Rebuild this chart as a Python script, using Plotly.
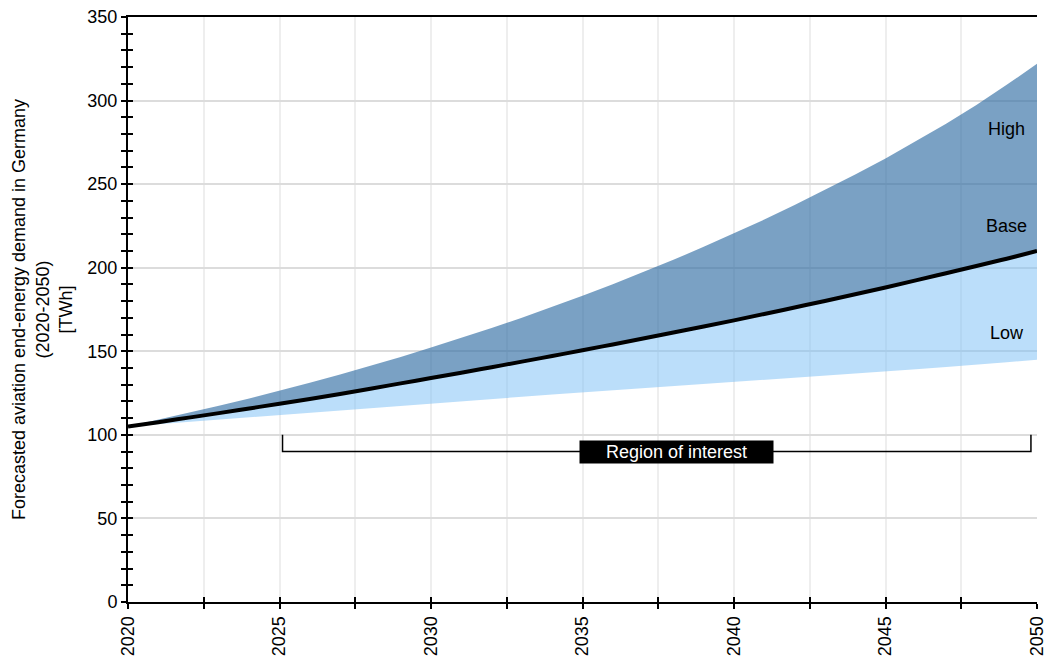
import plotly.graph_objects as go

years = list(range(2020, 2051))
high = [105.0, 109.0, 113.1, 117.4, 121.8, 126.4, 131.2, 136.1, 141.3, 146.6,
        152.2, 157.9, 163.9, 170.1, 176.5, 183.2, 190.1, 197.3, 204.7, 212.5,
        220.5, 228.8, 237.5, 246.4, 255.7, 265.4, 275.6, 286.2, 297.4, 309.4, 322.0]
base = [105.0, 107.6, 110.3, 113.0, 115.8, 118.6, 121.5, 124.5, 127.6, 130.8,
        134.0, 137.2, 140.5, 143.8, 147.2, 150.6, 154.1, 157.6, 161.2, 164.8,
        168.5, 172.3, 176.2, 180.1, 184.1, 188.2, 192.4, 196.7, 201.0, 205.4, 210.0]
low = [105.0, 106.4, 107.8, 109.2, 110.6, 112.0, 113.4, 114.8, 116.2, 117.6,
       118.9, 120.2, 121.5, 122.8, 124.1, 125.4, 126.6, 127.9, 129.1, 130.4,
       131.6, 132.9, 134.1, 135.4, 136.7, 138.0, 139.3, 140.6, 141.9, 143.4, 145.0]

y_title = "Forecasted aviation end-energy demand in Germany<br>(2020-2050)<br>[TWh]"
scenario_labels = ["High", "Base", "Low"]
scenario_label_y = [283, 225, 161]
label_x = 2049
roi_start, roi_end, roi_top, roi_level = 2025.1, 2049.8, 100, 90
roi_text = "Region of interest"
roi_text_x = 2038.1

FONT = "Liberation Sans, Arial, sans-serif"
dark = "rgba(50,110,165,0.65)"
light = "rgba(120,190,245,0.5)"

fig = go.Figure()
fig.add_trace(go.Scatter(x=years, y=low, mode="lines", line=dict(width=0),
                         showlegend=False, hoverinfo="skip"))
fig.add_trace(go.Scatter(x=years, y=base, mode="lines", line=dict(width=0),
                         fill="tonexty", fillcolor=light, showlegend=False))
fig.add_trace(go.Scatter(x=years, y=high, mode="lines", line=dict(width=0),
                         fill="tonexty", fillcolor=dark, showlegend=False))
fig.add_trace(go.Scatter(x=years, y=base, mode="lines",
                         line=dict(color="black", width=4, shape="spline"), showlegend=False))
# bracket
fig.add_trace(go.Scatter(x=[roi_start, roi_start, roi_end, roi_end],
                         y=[roi_top, roi_level, roi_level, roi_top],
                         mode="lines", line=dict(color="black", width=1.5),
                         showlegend=False, hoverinfo="skip"))

for t, yv in zip(scenario_labels, scenario_label_y):
    fig.add_annotation(x=label_x, y=yv, text=t, showarrow=False,
                       font=dict(size=18, color="black", family=FONT),
                       xanchor="center", yanchor="middle")

pad = "&nbsp;" * 5
fig.add_annotation(x=roi_text_x, y=roi_level, text=pad + roi_text + pad,
                   showarrow=False, bgcolor="black",
                   font=dict(size=18, color="white", family=FONT),
                   borderpad=1, xanchor="center", yanchor="middle")

fig.update_layout(
    width=1048, height=657,
    margin=dict(l=128, r=11, t=17, b=55),
    plot_bgcolor="white", paper_bgcolor="white",
    font=dict(family=FONT, size=18, color="black"),
    xaxis=dict(range=[2020, 2050], dtick=5, tick0=2020, tickangle=-90,
               showline=True, linecolor="black", linewidth=2, mirror=True,
               ticks="outside", ticklen=5, tickwidth=1.5, tickcolor="black",
               showgrid=True, gridcolor="#eeeeee", gridwidth=1.5,
               minor=dict(dtick=2.5, tick0=2020, ticks="outside", ticklen=5,
                          tickwidth=1.5, tickcolor="black", showgrid=True,
                          gridcolor="#eeeeee", gridwidth=1.5),
               zeroline=False, tickfont=dict(size=18), automargin=False),
    yaxis=dict(range=[0, 350], dtick=50, showline=True, linecolor="black", linewidth=2,
               ticks="outside", ticklen=5, tickwidth=1.5, tickcolor="black",
               showgrid=True, gridcolor="#dcdcdc", gridwidth=1.5,
               minor=dict(dtick=10, ticks="outside", ticklen=5, tickwidth=1.5,
                          tickcolor="black", showgrid=False),
               zeroline=False, tickfont=dict(size=18), automargin=False,
               title=dict(text=y_title, font=dict(size=18), standoff=10)),
    xaxis2=dict(range=[2020, 2050], overlaying="x", showticklabels=False,
                dtick=2.5, tick0=2020, ticks="inside", ticklen=5, tickwidth=1.5,
                tickcolor="black", showgrid=False, zeroline=False, side="bottom",
                anchor="y"),
    yaxis2=dict(range=[0, 350], overlaying="y", showticklabels=False,
                dtick=10, ticks="inside", ticklen=5, tickwidth=1.5,
                tickcolor="black", showgrid=False, zeroline=False, side="left",
                anchor="x"),
)
fig.add_trace(go.Scatter(x=[2020], y=[0], xaxis="x2", yaxis="y2", mode="markers",
                         marker=dict(opacity=0), showlegend=False, hoverinfo="skip"))

fig.write_html("out.html", config={"displayModeBar": False},
               post_script="document.body.style.margin='0';document.body.style.overflow='hidden';")
